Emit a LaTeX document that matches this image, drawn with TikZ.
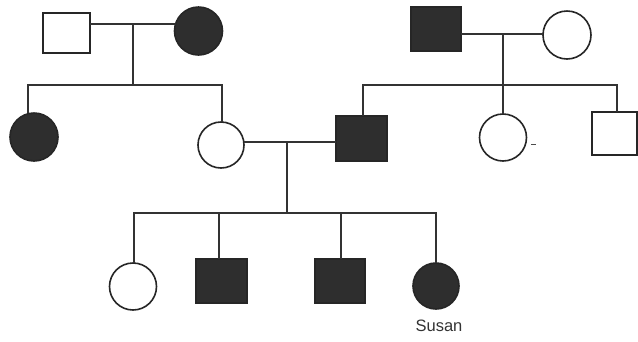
\documentclass[tikz,border=0pt]{standalone}
\usepackage{fontspec}
\setmainfont{Liberation Sans}
\begin{document}
\begin{tikzpicture}[x=1pt,y=-1pt,
  line width=1.6pt,
  every node/.style={inner sep=0pt, outer sep=0pt},
  male/.style={draw=black!85, fill=white, rectangle},
  female/.style={draw=black!85, fill=white, circle},
  aff/.style={fill=black!82},
  ln/.style={draw=black!80, line width=1.7pt}]
\useasboundingbox[fill=white] (0,0) rectangle (638,341);
% generation 1
\node[male, minimum width=47pt, minimum height=40pt] (f1) at (66.5,33) {};
\node[female, aff, minimum size=48pt] (m1) at (198.5,31) {};
\node[male, aff, minimum width=50pt, minimum height=44pt] (f2) at (436,29) {};
\node[female, minimum size=48pt] (m2) at (567,35) {};
\coordinate (mid1) at (133,24);
\coordinate (mid2) at (503,34);
\coordinate (sib1) at (133,85);
\coordinate (sib1l) at (28,85);
\coordinate (sib1r) at (222,85);
\coordinate (sib2l) at (363,85);
\coordinate (sib2m) at (503,85);
\coordinate (sib2r) at (617,85);
% generation 2
\node[female, aff, minimum size=48pt] (c1) at (34,137) {};
\node[female, minimum size=46pt] (c2) at (221,145) {};
\node[male, aff, minimum width=51pt, minimum height=45pt] (c3) at (361.5,138.5) {};
\node[female, minimum size=47pt] (c4) at (503,137.5) {};
\node[male, minimum width=45pt, minimum height=43pt] (c5) at (614.5,133.5) {};
\coordinate (mid3) at (287,142);
\coordinate (sib3) at (287,213);
\coordinate (sib3l) at (134,213);
\coordinate (sib3b) at (219,213);
\coordinate (sib3c) at (341,213);
\coordinate (sib3r) at (436,213);
% generation 3
\node[female, minimum size=47pt] (d1) at (133,286.5) {};
\node[male, aff, minimum width=51pt, minimum height=44pt] (d2) at (221.5,281) {};
\node[male, aff, minimum width=50pt, minimum height=44pt] (d3) at (340,281) {};
\node[female, aff, minimum size=46pt] (d4) at (436,286) {};
\node[font=\fontsize{16.5}{16.5}\selectfont, text=black!80] (susan) at (439,326) {Susan};
% mark beside c4
\coordinate (dash) at (531,144);
\draw[black!70, line width=1pt] (dash) -- ++(5,0);
% connectors
\draw[ln] (f1.east |- mid1) -- (m1.163);
\draw[ln] (mid1) -- (sib1);
\draw[ln] (sib1l |- c1.north) -- (sib1l) -- (sib1r) -- (sib1r |- c2.north);
\draw[ln] (f2.east |- mid2) -- (mid2 -| m2.west);
\draw[ln] (mid2) -- (c4.north);
\draw[ln] (sib2l |- c3.north) -- (sib2l) -- (sib2r) -- (sib2r |- c5.north);
\draw[ln] (c2.east |- mid3) -- (mid3 -| c3.west);
\draw[ln] (mid3) -- (sib3);
\draw[ln] (d1.north -| sib3l) -- (sib3l) -- (sib3r) -- (d4.north);
\draw[ln] (sib3b) -- (sib3b |- d2.north);
\draw[ln] (sib3c) -- (sib3c |- d3.north);
\end{tikzpicture}
\end{document}
